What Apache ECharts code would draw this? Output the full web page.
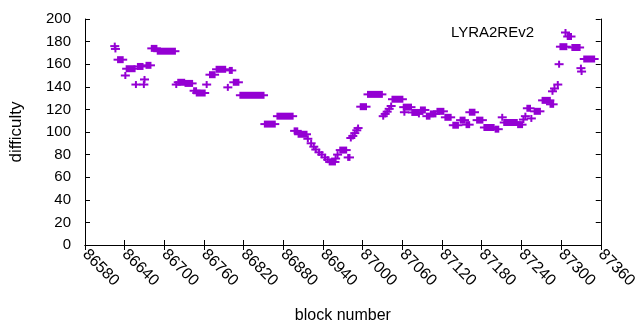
<!doctype html>
<html lang="en">
<head>
	<meta charset="utf-8" />
	<title>LYRA2REv2 difficulty</title>
	<script src="https://cdn.jsdelivr.net/npm/echarts@6/dist/echarts.min.js"></script>
	<style>
		html, body { margin: 0; padding: 0; background: #fff; }
		#main { width: 640px; height: 330px; }
	</style>
</head>
<body>
	<div id="main"></div>
	<script>
		// each run of blocks that share one difficulty: first block, last block, difficulty
		var blockFrom = [86625, 86626, 86630, 86641, 86643, 86657, 86660, 86669, 86670, 86673, 86681, 86690,
			86718, 86721, 86732, 86745, 86749, 86764, 86769, 86779, 86796, 86799, 86805, 86815,
			86852, 86871, 86897, 86903, 86917, 86922, 86926, 86929, 86934, 86938, 86943, 86947,
			86950, 86959, 86962, 86966, 86978, 86982, 86985, 86988, 86991, 86993, 86997, 87008,
			87031, 87034, 87037, 87040, 87043, 87045, 87062, 87063, 87075, 87085, 87088, 87097,
			87103, 87113, 87125, 87137, 87148, 87157, 87162, 87173, 87184, 87201, 87211, 87214,
			87235, 87243, 87246, 87249, 87255, 87260, 87272, 87284, 87287, 87290, 87295, 87297,
			87299, 87310, 87317, 87330, 87331, 87335];
		var blockTo = [86625, 86626, 86637, 86641, 86655, 86657, 86667, 86669, 86670, 86679, 86688, 86716,
			86718, 86730, 86742, 86748, 86761, 86764, 86776, 86792, 86796, 86802, 86812, 86850,
			86867, 86894, 86901, 86915, 86917, 86922, 86926, 86929, 86934, 86938, 86943, 86947,
			86958, 86959, 86962, 86975, 86980, 86982, 86985, 86988, 86991, 86993, 87005, 87029,
			87031, 87034, 87037, 87040, 87043, 87060, 87073, 87063, 87083, 87085, 87094, 87101,
			87110, 87122, 87133, 87144, 87154, 87161, 87169, 87181, 87198, 87205, 87211, 87233,
			87241, 87243, 87246, 87253, 87255, 87268, 87283, 87288, 87287, 87290, 87295, 87297,
			87308, 87315, 87328, 87330, 87331, 87350];
		var difficulty = [176, 173.5, 164, 150, 156, 142, 158, 142, 146.5, 159, 174, 171.5,
			142, 144, 143, 136.5, 134.5, 142, 150.7, 155.5, 139.5, 154.5, 144, 132.5,
			107, 114, 101, 98, 94, 90, 87, 84.5, 82, 80, 77.5, 75.5,
			73.5, 76.5, 80, 84, 77.5, 94.7, 96.5, 99, 101.5, 103.5, 122.4, 133.3,
			114, 116, 118, 120.5, 123, 129, 122, 117.5, 117.3, 116, 119.5, 114,
			116, 118.3, 113, 106, 110.5, 106.5, 117.5, 110.5, 104, 102.5, 113, 108.4,
			106.5, 111, 114, 121, 112, 118.3, 128, 124.5, 136, 138.5, 142, 160,
			175.5, 184.5, 174.8, 156.5, 153.5, 164.6];

		var xTicks = { min: 86580, max: 87360, step: 60 };
		var yTicks = { min: 0, max: 200, step: 20 };

		var purple = '#9400d3';
		var font = 'Liberation Sans, Arial, sans-serif';

		var segData = blockFrom.map(function (b, i) {
			return [b, blockTo[i], difficulty[i]];
		});

		// gnuplot "+" points, one per block, merged into a run
		function renderRun(params, api) {
			var a = api.coord([api.value(0), api.value(2)]);
			var b = api.coord([api.value(1), api.value(2)]);
			var w = b[0] - a[0];
			return {
				type: 'group',
				children: [
					{ type: 'rect', shape: { x: a[0] - 1, y: a[1] - 3.5, width: w + 2, height: 7 },
						style: { fill: purple } },
					{ type: 'rect', shape: { x: a[0] - 4.5, y: a[1] - 1, width: w + 9, height: 2 },
						style: { fill: purple } }
				]
			};
		}

		var chart = echarts.init(document.getElementById('main'));
		var axisLine = { show: true, lineStyle: { color: '#000', width: 1 } };
		var tick = { show: true, inside: true, length: 5, lineStyle: { color: '#000' } };

		chart.setOption({
			animation: false,
			grid: { left: 85, right: 35, top: 19, bottom: 85 },
			legend: {
				data: ['LYRA2REv2'],
				right: 65,
				top: 20,
				align: 'right',
				itemWidth: 9,
				itemHeight: 7,
				icon: 'path://M0,2.5H9V4.5H0Z M3.5,0H5.5V7H3.5Z',
				textStyle: { fontFamily: font, fontSize: 15, color: '#000', padding: [0, 22, 0, 0] }
			},
			xAxis: [{
				type: 'value',
				min: xTicks.min, max: xTicks.max, interval: xTicks.step,
				name: 'block number',
				nameLocation: 'middle',
				nameGap: 63,
				nameTextStyle: { fontFamily: font, fontSize: 16, color: '#000' },
				axisLine: axisLine,
				axisTick: tick,
				splitLine: { show: false },
				axisLabel: {
					rotate: -45, margin: 7, color: '#000', fontFamily: font, fontSize: 16,
					formatter: function (v) { return String(v); }
				}
			}, {
				type: 'value', position: 'top',
				min: xTicks.min, max: xTicks.max, interval: xTicks.step,
				axisLine: axisLine, axisTick: tick,
				axisLabel: { show: false }, splitLine: { show: false }
			}],
			yAxis: [{
				type: 'value',
				min: yTicks.min, max: yTicks.max, interval: yTicks.step,
				name: 'difficulty',
				nameLocation: 'middle',
				nameGap: 60,
				nameTextStyle: { fontFamily: font, fontSize: 17, color: '#000' },
				axisLine: axisLine,
				axisTick: tick,
				splitLine: { show: false },
				axisLabel: { margin: 14, color: '#000', fontFamily: font, fontSize: 15 }
			}, {
				type: 'value', position: 'right',
				min: yTicks.min, max: yTicks.max, interval: yTicks.step,
				axisLine: axisLine, axisTick: tick,
				axisLabel: { show: false }, splitLine: { show: false }
			}],
			series: [{
				name: 'LYRA2REv2',
				type: 'custom',
				renderItem: renderRun,
				itemStyle: { color: purple },
				encode: { x: [0, 1], y: 2 },
				data: segData
			}]
		});
	</script>
</body>
</html>
